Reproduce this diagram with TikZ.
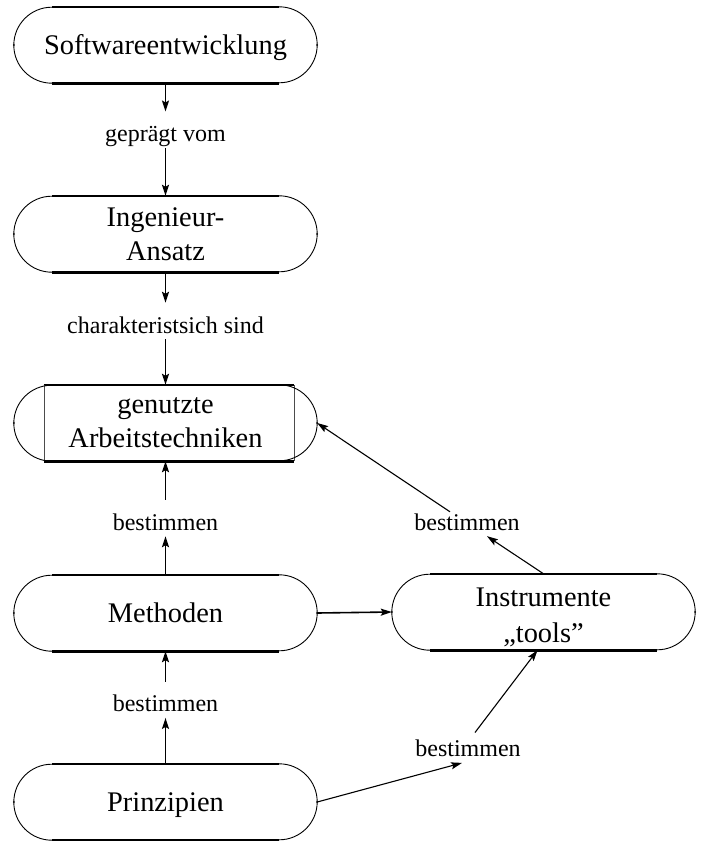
\documentclass[tikz,border=0pt]{standalone}
\usepackage{fontspec}
\setmainfont{Liberation Serif}
\usetikzlibrary{arrows.meta}
\begin{document}
\begin{tikzpicture}[x=1pt,y=-1pt,
  term/.style={minimum width=303pt, minimum height=76pt, inner sep=0pt, align=center,
    font=\fontsize{28.4}{34}\selectfont},
  oneline/.style={text height=21pt, text depth=2pt},
  lbl/.style={font=\fontsize{24}{28}\selectfont, text height=26pt, text depth=2pt,
    inner ysep=4pt, inner xsep=2pt, anchor=base},
  rim/.style={line width=0.9pt},
  topline/.style={line width=1.4pt},
  botline/.style={line width=2.8pt},
  sideline/.style={line width=0.45pt, black!70},
  tip/.style={-{Stealth[length=11pt,width=7pt,inset=2pt]}},
  flow/.style={tip, line width=1.6pt},
  slant/.style={tip, line width=1.1pt}]
\useasboundingbox (0,0) rectangle (701,841);

% terminal boxes
\node[term,oneline] (sw)    at (165.5,45)  {Softwareentwicklung};
\node[term]         (ing)   at (165.5,234) {Ingenieur-\\Ansatz};
\node[term]         (gen)   at (165.5,423) {genutzte\\Arbeitstechniken};
\node[term,oneline] (meth)  at (165.5,613) {Methoden};
\node[term,oneline] (prinz) at (165.5,802) {Prinzipien};
\node[term, font=\fontsize{28.4}{36}\selectfont]
                    (instr) at (543.5,612) {\rule{0pt}{29pt}Instrumente\\„tools”};

% outlines: thin top, heavy bottom, half-round ends
\foreach \n in {sw,ing,meth,prinz,instr} {
  \draw[topline] ([xshift=38pt]\n.north west) -- ([xshift=-38pt]\n.north east);
  \draw[botline] ([xshift=38pt]\n.south west) -- ([xshift=-38pt]\n.south east);
}
\draw[topline] ([xshift=30pt]gen.north west) -- ([xshift=-23pt]gen.north east);
\draw[botline] ([xshift=30pt]gen.south west) -- ([xshift=-23pt]gen.south east);
\draw[sideline] ([xshift=30pt]gen.north west) -- ([xshift=30pt]gen.south west);
\draw[sideline] ([xshift=-23pt]gen.north east) -- ([xshift=-23pt]gen.south east);
\foreach \n in {sw,ing,gen,meth,prinz,instr} {
  \draw[rim] ([xshift=-38pt]\n.north east) arc[start angle=90,end angle=-90,radius=38pt];
  \draw[rim] ([xshift=38pt]\n.south west) arc[start angle=270,end angle=90,radius=38pt];
  \fill (\n.west) circle (1pt) (\n.east) circle (1pt);
}

% connector labels
\node[lbl] (l1) at (165.5,141.7) {geprägt vom};
\node[lbl] (l2) at (165.5,333)   {charakteristsich sind};
\node[lbl] (l3) at (165.5,530)   {bestimmen};
\node[lbl] (l4) at (165.5,711.7) {bestimmen};
\node[lbl] (l5) at (467,530)     {bestimmen};
\node[lbl] (l6) at (468,756.7)   {bestimmen};

% connectors
\draw[flow] (sw.south) -- (l1.north);
\draw[flow] (l1.south) -- (ing.north);
\draw[flow] (ing.south) -- (l2.north);
\draw[flow] (l2.south) -- (gen.north);
\draw[flow] (meth.north) -- (l3.south);
\draw[flow] (l3.north) -- (gen.south);
\draw[flow] (prinz.north) -- (l4.south);
\draw[flow] (l4.north) -- (meth.south);
\draw[flow] (meth.east) -- (instr.west);
\draw[slant] (instr.north) -- ([xshift=20pt]l5.south);
\draw[slant] ([xshift=-17pt,yshift=-12pt]l5.north) -- (gen.east);
\draw[slant] (prinz.east) -- ([xshift=-6pt]l6.south);
\draw[slant] ([xshift=7pt,yshift=-6pt]l6.north) -- ([xshift=-6pt]instr.south);
\end{tikzpicture}
\end{document}
